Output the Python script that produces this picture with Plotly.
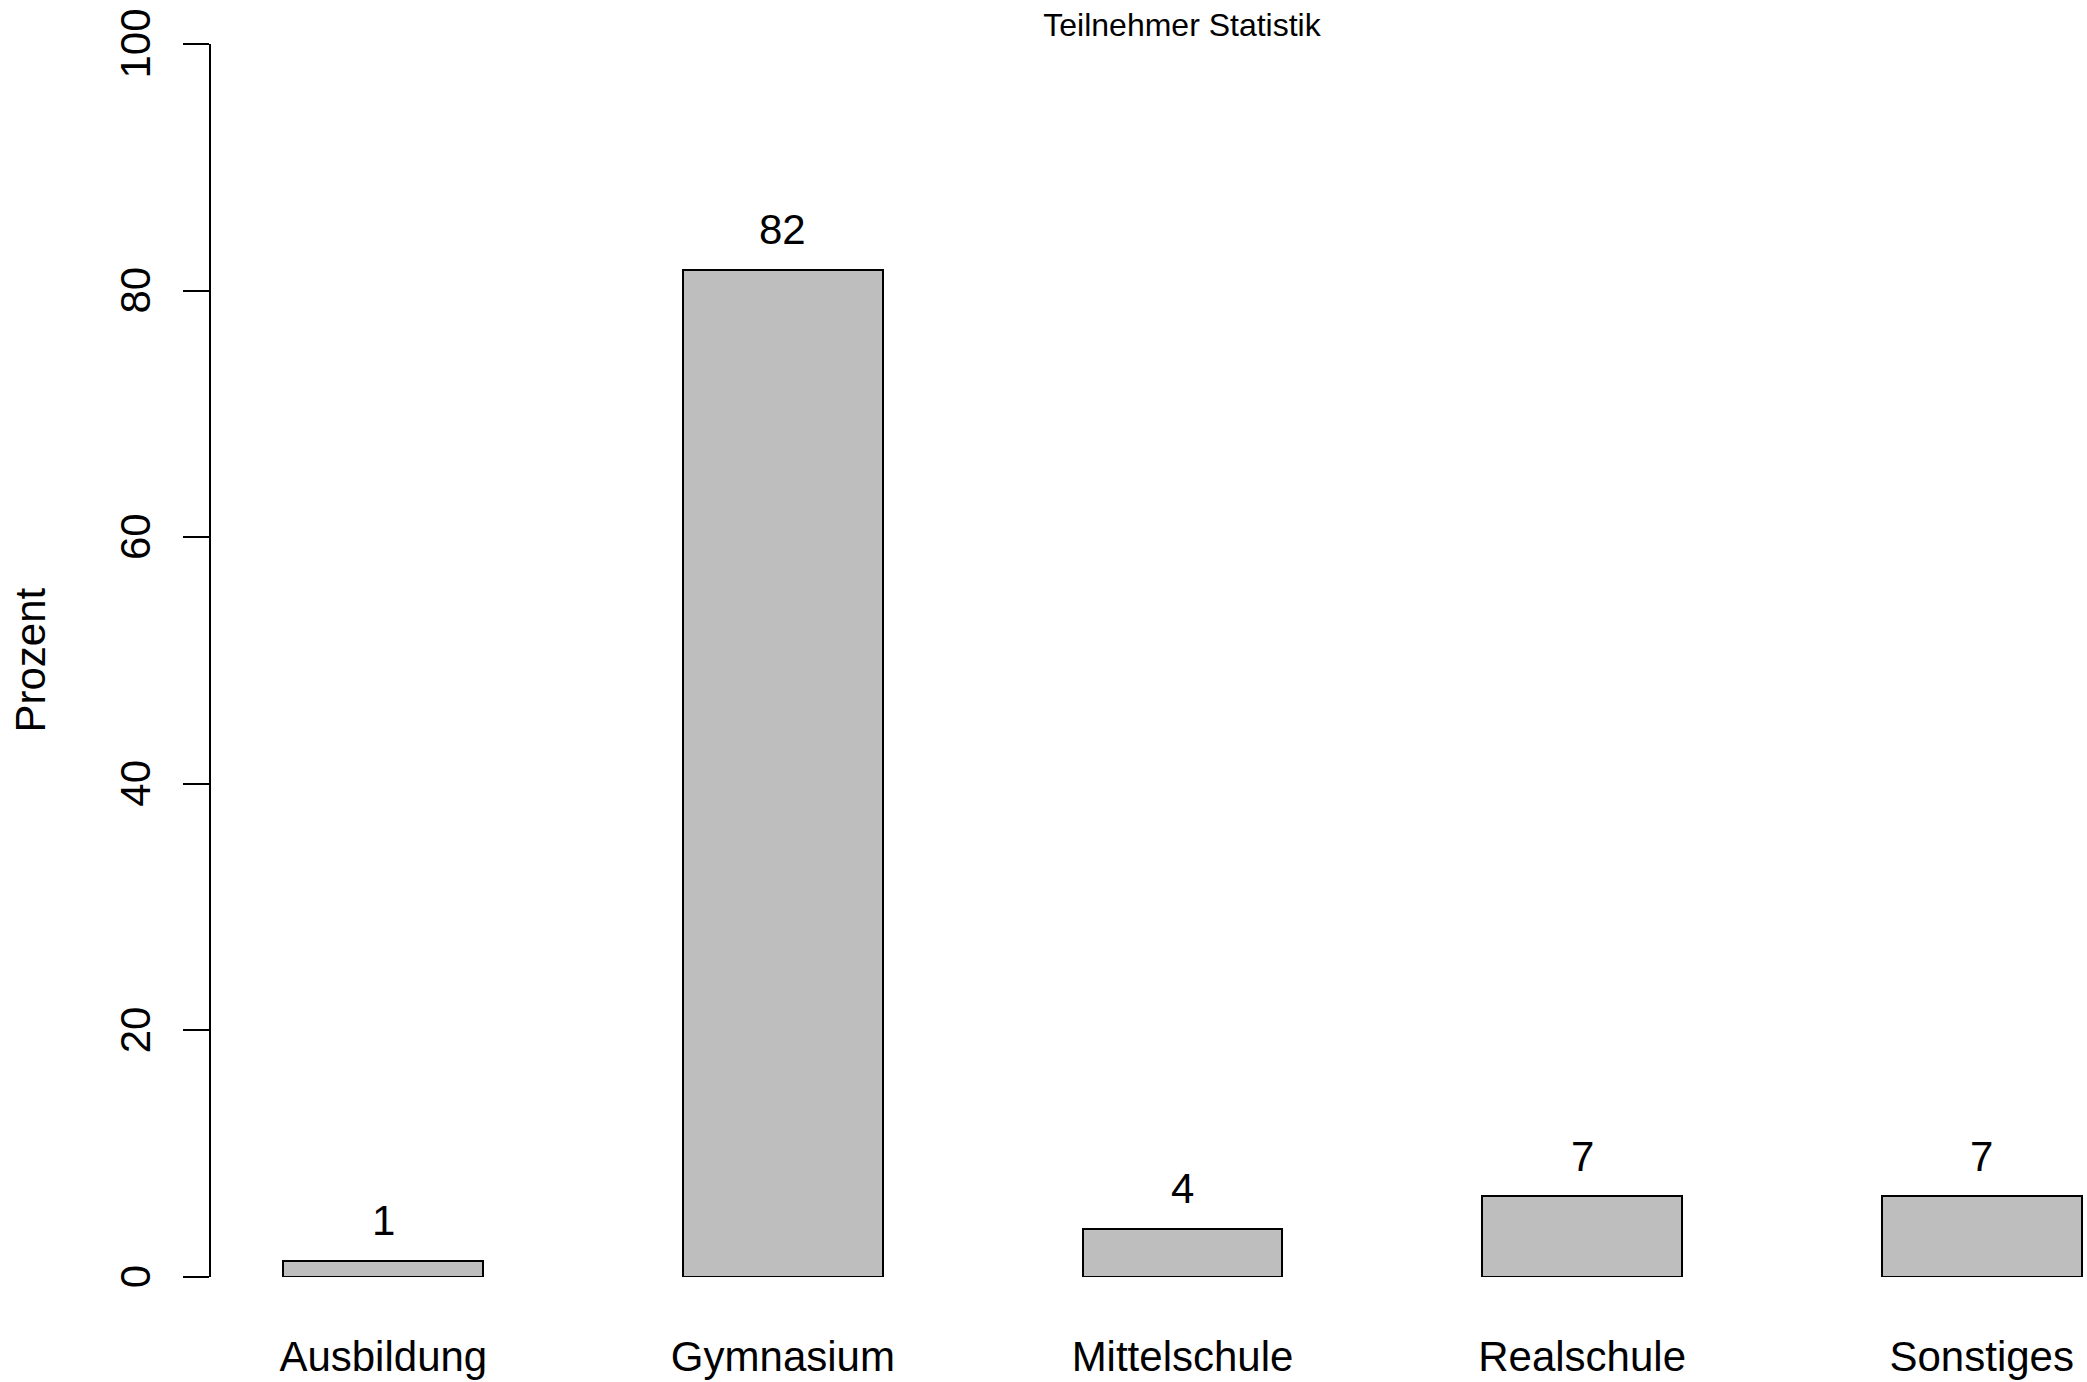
import plotly.graph_objects as go

categories = ["Ausbildung", "Gymnasium", "Mittelschule", "Realschule", "Sonstiges"]
values = [1.31, 81.70, 3.92, 6.54, 6.54]
value_labels = [f"{v:.0f}" for v in values]
y_ticks = [0, 20, 40, 60, 80, 100]

W, H = 2087, 1382
L, R, T, B = 211, 0, 44, 1382 - 1277
FONT = "Liberation Sans, Arial, Helvetica, sans-serif"

fig = go.Figure()
fig.add_trace(go.Bar(
    x=categories, y=values, width=0.5,
    marker=dict(color="#BEBEBE", line=dict(color="black", width=2)),
    showlegend=False, hoverinfo="skip",
))

for c, v, t in zip(categories, values, value_labels):
    fig.add_annotation(x=c, y=v, text=t, showarrow=False, yshift=40,
                       xanchor="center", yanchor="middle",
                       font=dict(size=42, color="black", family=FONT))

plot_w = W - L - R
fig.add_annotation(xref="paper", yref="paper", x=(30 - L) / plot_w, y=0.5,
                   text="Prozent", textangle=-90, showarrow=False,
                   xanchor="center", yanchor="middle",
                   font=dict(size=42, color="black", family=FONT))

fig.update_layout(
    width=W, height=H,
    margin=dict(l=L, r=R, t=T, b=B, autoexpand=False),
    paper_bgcolor="white", plot_bgcolor="white",
    font=dict(family=FONT, color="black"),
    title=dict(text="Teilnehmer Statistik", x=1182 / W, xanchor="center",
               y=1 - 25 / H, yanchor="middle", xref="container", yref="container",
               font=dict(size=32, color="black", family=FONT)),
    bargap=0,
)
# x range chosen so bars sit where the reference draws them
x0 = -0.5 + (211 - 183.5) / 399.6
x1 = x0 + plot_w / 399.6
fig.update_xaxes(range=[x0, x1], showline=False, showgrid=False, zeroline=False,
                 ticks="", tickfont=dict(size=42, color="black", family=FONT),
                 ticklabelstandoff=51, automargin=False)
fig.update_yaxes(range=[0, 100], tickvals=y_ticks,
                 ticktext=[str(v) + "\u00a0" for v in y_ticks],
                 tickangle=-90, ticks="outside", ticklen=26, tickwidth=2, tickcolor="black",
                 showline=True, linecolor="black", linewidth=2, showgrid=False, zeroline=False,
                 ticklabeloverflow="allow", ticklabelstandoff=16,
                 tickfont=dict(size=42, color="black", family=FONT), automargin=False)

fig.write_html("out.html", config={"displayModeBar": False},
               post_script="document.body.style.margin='0';document.body.style.overflow='hidden';")
